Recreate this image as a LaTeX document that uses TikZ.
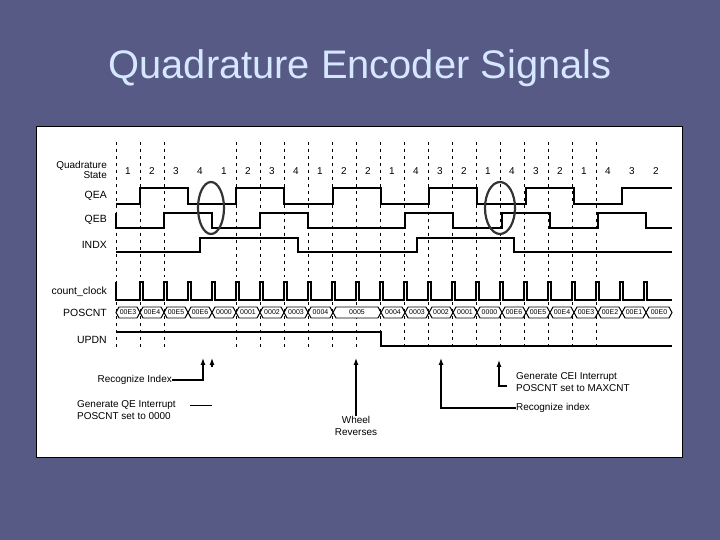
\documentclass[tikz,border=0pt]{standalone}
\usepackage{fontspec}
\setmainfont{Liberation Sans}
\begin{document}
\begin{tikzpicture}[x=1bp,y=-1bp,
  lbl/.style={font=\fontsize{10.5}{11}\selectfont,inner sep=0pt,anchor=east},
  small/.style={font=\fontsize{10}{12}\selectfont,inner sep=0pt,align=left},
  hexlbl/.style={font=\fontsize{7}{7}\selectfont,inner sep=0pt},
  wave/.style={line width=1.5pt},
  grid/.style={dashed,dash pattern=on 3pt off 4pt,line width=0.9pt},
  ptr/.style={line width=1.2pt,-{Latex[length=7pt,width=5pt]}}]
\usetikzlibrary{arrows.meta}
\fill[fill={rgb,255:red,87;green,90;blue,133}] (0,0) rectangle (720,540);
\useasboundingbox (0,0) rectangle (720,540);
\node[font=\fontsize{40}{44}\selectfont,text={rgb,255:red,214;green,232;blue,255}] (title) at (360,68) {Quadrature Encoder Signals};
\draw[fill=white,line width=1pt] (36,127) rectangle (682,457);
% grid
\foreach \k in {0,1,2,5,6,7,8,9,10,11,12,13,14,15,16,17,18,19,20}
  \draw[grid] ({116+24*\k},142) -- ({116+24*\k},350);
% labels
\node[lbl,align=right,font=\fontsize{10}{10}\selectfont] (lq) at (107,170) {Quadrature\\State};
\node[lbl] (la) at (107,196) {QEA};
\node[lbl] (lb) at (107,220) {QEB};
\node[lbl] (li) at (107,245) {INDX};
\node[lbl] (lc) at (107,292) {count\_clock};
\node[lbl] (lp) at (107,313) {POSCNT};
\node[lbl] (lu) at (107,340) {UPDN};
\foreach \s [count=\i from 0] in {1,2,3,4,1,2,3,4,1,2,2,1,4,3,2,1,4,3,2,1,4,3,2}
  \node[font=\fontsize{10}{10}\selectfont,inner sep=0pt] (st\i) at ({128+24*\i},171) {\s};
% waves
\draw[wave] (116,204)-|(140,188)-|(188,204)-|(236,188)-|(284,204)-|(333,188)-|(381,204)-|(429,188)-|(477,204)-|(526,188)-|(574,204)-|(622,188)--(672,188);
\draw[wave] (116,213)--(116,228)-|(164,213)-|(212,228)-|(260,213)-|(308,228)-|(405,213)-|(453,228)-|(502,213)-|(550,228)-|(598,213)-|(646,228)--(672,228);
\draw[wave] (116,252)-|(200,238)-|(298,252)-|(417,238)-|(514,252)--(672,252);
\draw[line width=2.2pt,black!80] (211,208) ellipse (13 and 26);
\draw[line width=2.2pt,black!80] (500,208) ellipse (15 and 26);
% clock
\draw[wave] (116,282)--(116,300)
  \foreach \k in {1,...,22} {-- ({116+24*\k},300) -- ({116+24*\k},282) -- ({119+24*\k},282) -- ({119+24*\k},300)} -- (672,300);
% poscnt
\foreach \xs/\w/\t in {116/24/00E3,140/24/00E4,164/24/00E5,188/24/00E6,212/24/0000,236/24/0001,260/24/0002,284/24/0003,308/25/0004,333/48/0005,381/24/0004,405/24/0003,429/24/0002,453/24/0001,477/25/0000,502/24/00E6,526/24/00E5,550/24/00E4,574/24/00E3,598/24/00E2,622/24/00E1,646/26/00E0}
 {\draw[line width=1pt,fill=white] (\xs,312.5)--({\xs+3},307)--({\xs+\w-3},307)--({\xs+\w},312.5)--({\xs+\w-3},318)--({\xs+3},318)--cycle;
  \node[hexlbl] at ({\xs+\w/2},312.5) {\t};}
% updn
\draw[wave] (116,332)-|(381,346)--(672,346);
% annotations
\node[small,anchor=east] (ri) at (172,380) {Recognize Index};
\coordinate (a1) at (203,358);
\coordinate (a2) at (212,358);
\draw[ptr] (ri.east) -| (a1);
\draw[ptr] (212,367) -- (a2);
\node[small,anchor=west] (gq) at (77,410) {Generate QE Interrupt\\POSCNT set to 0000};
\draw[line width=0.8pt] (190,405) -- (212,405);
\node[small,align=center] (wr) at (356,426) {Wheel\\Reverses};
\draw[ptr] (wr.north) -- (356,358);
\node[small,anchor=west] (rx) at (516,408) {Recognize index};
\draw[ptr] (rx.west) -| (441,358);
\node[small,anchor=west] (gc) at (516,382) {Generate CEI Interrupt\\POSCNT set to MAXCNT};
\draw[ptr] (507,386) -| (499,360);
\end{tikzpicture}
\end{document}
